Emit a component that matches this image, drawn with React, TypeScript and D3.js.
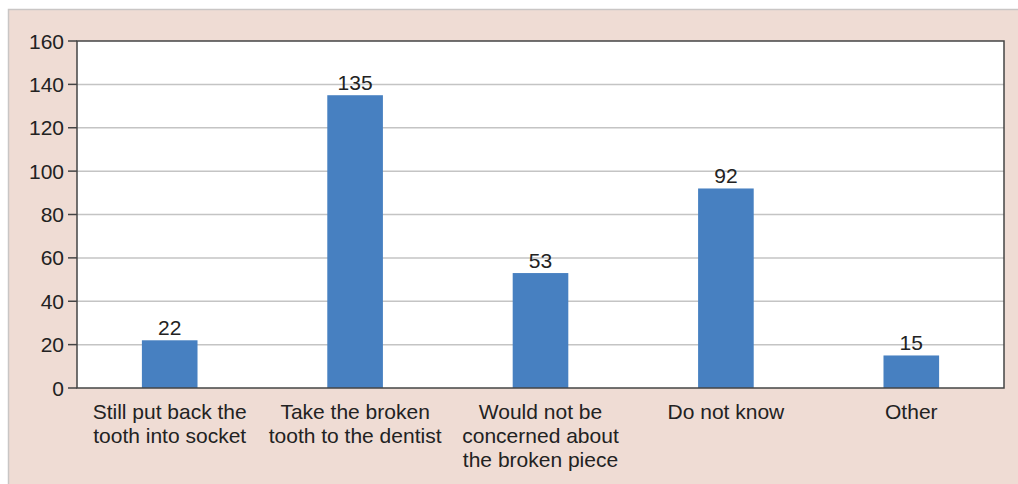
import React from "react";
import * as d3 from "d3";

const categories: string[][] = [
  ["Still put back the", "tooth into socket"],
  ["Take the broken", "tooth to the dentist"],
  ["Would not be", "concerned about", "the broken piece"],
  ["Do not know"],
  ["Other"],
];
const values: number[] = [22, 135, 53, 92, 15];
const yTicks: number[] = [0, 20, 40, 60, 80, 100, 120, 140, 160];

const W = 1018;
const H = 484;
const margin = { left: 77, right: 14, top: 41, bottom: 96 };

export default function App() {
  const x = d3
    .scaleBand<number>()
    .domain(values.map((_, i) => i))
    .range([margin.left, W - margin.right])
    .paddingInner(0.7)
    .paddingOuter(0.35);
  const y = d3.scaleLinear().domain([0, 160]).range([H - margin.bottom, margin.top]);
  const font = "'Liberation Sans', Arial, sans-serif";
  const x0 = margin.left;
  const x1 = W - margin.right;
  const y0 = y(0);
  const yTop = y(160);

  return (
    <svg
      width={W}
      height={H}
      style={{ position: "absolute", left: 0, top: 0, display: "block" }}
      fontFamily={font}
    >
      <rect x={0} y={0} width={W} height={H} fill="#ffffff" />
      <rect x={8.5} y={9.5} width={W} height={H} fill="#efdcd4" stroke="#c9c6c5" strokeWidth={1.5} />
      <rect x={x0} y={yTop} width={x1 - x0} height={y0 - yTop} fill="#ffffff" />
      {yTicks.map((t) => (
        <g key={t}>
          {t > 0 && t < 160 && (
            <line x1={x0} x2={x1} y1={y(t)} y2={y(t)} stroke="#c4c4c4" strokeWidth={1.5} />
          )}
          <line x1={x0 - 9} x2={x0} y1={y(t)} y2={y(t)} stroke="#444" strokeWidth={1.5} />
          <text x={x0 - 13} y={y(t)} dy="0.36em" textAnchor="end" fontSize={21} fill="#222">
            {t}
          </text>
        </g>
      ))}
      {values.map((v, i) => (
        <g key={i}>
          <rect
            x={x(i)!}
            y={y(v)}
            width={x.bandwidth()}
            height={y0 - y(v)}
            fill="#4780c1"
          />
          <text
            x={x(i)! + x.bandwidth() / 2}
            y={y(v) - 5}
            textAnchor="middle"
            fontSize={21}
            fill="#222"
          >
            {v}
          </text>
          {categories[i].map((line, j) => (
            <text
              key={j}
              x={x(i)! + x.bandwidth() / 2}
              y={y0 + 31 + j * 24}
              textAnchor="middle"
              fontSize={21}
              fill="#222"
            >
              {line}
            </text>
          ))}
        </g>
      ))}
      <rect
        x={x0}
        y={yTop}
        width={x1 - x0}
        height={y0 - yTop}
        fill="none"
        stroke="#444"
        strokeWidth={1.5}
      />
    </svg>
  );
}
